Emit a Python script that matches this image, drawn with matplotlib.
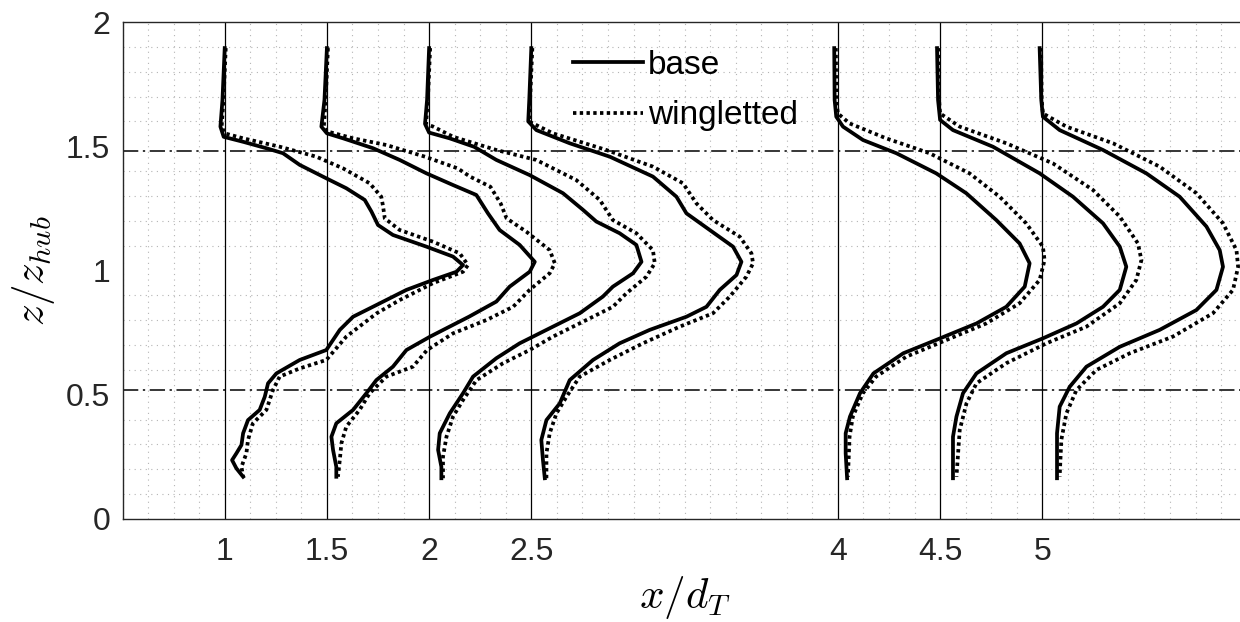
import numpy as np
import matplotlib
matplotlib.use('Agg')
import matplotlib.pyplot as plt
from matplotlib.ticker import MultipleLocator

# measurement stations x/d_T
stations = [1, 1.5, 2, 2.5, 4, 4.5, 5]
xtick_labels = ['1', '1.5', '2', '2.5', '4', '4.5', '5']
z_tip_top = 1.48
z_tip_bottom = 0.52

# profiles: z/z_hub and horizontal offset from station
base_z_10 = [1.895, 1.686, 1.579, 1.538, 1.518, 1.492, 1.472, 1.425, 1.371, 1.331, 1.284, 1.237,
             1.183, 1.143, 1.096, 1.056, 1.022, 0.995, 0.962, 0.922, 0.861, 0.814, 0.761, 0.680,
             0.640, 0.586, 0.546, 0.492, 0.439, 0.398, 0.345, 0.298, 0.264, 0.237, 0.204, 0.170]
base_dx_10 = [0.0, -0.011, -0.021, -0.005, 0.090, 0.204, 0.285, 0.367, 0.497, 0.595, 0.685, 0.718,
              0.750, 0.823, 0.987, 1.117, 1.166, 1.134, 1.019, 0.889, 0.742, 0.628, 0.563, 0.497,
              0.367, 0.253, 0.212, 0.196, 0.171, 0.114, 0.090, 0.082, 0.057, 0.036, 0.057, 0.090]
wing_z_10 = [1.895, 1.686, 1.579, 1.552, 1.532, 1.515, 1.498, 1.478, 1.458, 1.411, 1.351, 1.297,
             1.257, 1.210, 1.163, 1.116, 1.069, 1.022, 0.995, 0.949, 0.881, 0.827, 0.734, 0.640,
             0.606, 0.573, 0.519, 0.439, 0.385, 0.318, 0.264, 0.210, 0.170]
wing_dx_10 = [0.005, -0.006, -0.015, 0.0, 0.090, 0.180, 0.270, 0.360, 0.448, 0.579, 0.709, 0.766,
              0.775, 0.783, 0.856, 1.019, 1.150, 1.190, 1.166, 1.019, 0.856, 0.742, 0.595, 0.497,
              0.367, 0.269, 0.236, 0.204, 0.138, 0.114, 0.106, 0.082, 0.090]

base_z_15 = [1.895, 1.686, 1.579, 1.552, 1.532, 1.492, 1.445, 1.391, 1.344, 1.304, 1.230, 1.163,
             1.103, 1.035, 0.995, 0.935, 0.875, 0.814, 0.734, 0.680, 0.613, 0.559, 0.506, 0.439,
             0.385, 0.331, 0.278, 0.210, 0.170]
base_dx_15 = [0.0, -0.012, -0.027, 0.0, 0.079, 0.226, 0.356, 0.487, 0.617, 0.731, 0.788, 0.845,
              0.943, 1.017, 0.992, 0.894, 0.829, 0.695, 0.505, 0.389, 0.323, 0.242, 0.193, 0.128,
              0.046, 0.022, 0.030, 0.046, 0.046]
wing_z_15 = [1.895, 1.686, 1.579, 1.560, 1.532, 1.505, 1.458, 1.411, 1.378, 1.337, 1.270, 1.210,
             1.156, 1.082, 1.029, 0.989, 0.922, 0.854, 0.801, 0.747, 0.680, 0.613, 0.573, 0.506,
             0.439, 0.372, 0.305, 0.237, 0.170]
wing_dx_15 = [0.005, -0.006, -0.015, 0.0, 0.128, 0.291, 0.480, 0.640, 0.700, 0.800, 0.850, 0.879,
              0.976, 1.090, 1.115, 1.090, 0.992, 0.911, 0.781, 0.617, 0.490, 0.421, 0.291, 0.209,
              0.160, 0.095, 0.071, 0.063, 0.054]

base_z_20 = [1.895, 1.686, 1.590, 1.555, 1.532, 1.498, 1.445, 1.384, 1.311, 1.244, 1.197, 1.150,
             1.103, 1.035, 0.989, 0.935, 0.895, 0.828, 0.761, 0.707, 0.647, 0.573, 0.506, 0.425,
             0.345, 0.278, 0.210, 0.164]
base_dx_20 = [0.0, -0.010, -0.020, 0.0, 0.100, 0.220, 0.329, 0.492, 0.655, 0.753, 0.818, 0.932,
              1.014, 1.039, 0.998, 0.899, 0.850, 0.737, 0.574, 0.443, 0.329, 0.215, 0.166, 0.101,
              0.052, 0.044, 0.060, 0.060]
wing_z_20 = [1.895, 1.686, 1.590, 1.579, 1.538, 1.485, 1.445, 1.364, 1.284, 1.203, 1.150, 1.082,
             1.029, 0.975, 0.908, 0.854, 0.801, 0.734, 0.680, 0.627, 0.559, 0.479, 0.412, 0.331,
             0.251, 0.164]
wing_dx_20 = [0.005, -0.006, -0.015, 0.020, 0.118, 0.329, 0.524, 0.720, 0.835, 0.899, 1.014, 1.095,
              1.104, 1.063, 0.965, 0.899, 0.770, 0.606, 0.492, 0.362, 0.232, 0.166, 0.117, 0.085,
              0.068, 0.068]

base_z_25 = [1.895, 1.686, 1.600, 1.565, 1.512, 1.458, 1.378, 1.297, 1.230, 1.163, 1.096, 1.035,
             0.982, 0.922, 0.854, 0.814, 0.761, 0.707, 0.640, 0.559, 0.465, 0.398, 0.318, 0.237,
             0.164]
base_dx_25 = [0.0, -0.010, -0.015, 0.025, 0.188, 0.384, 0.595, 0.710, 0.759, 0.873, 0.987, 1.028,
              1.004, 0.922, 0.857, 0.759, 0.579, 0.432, 0.302, 0.188, 0.139, 0.074, 0.049, 0.057,
              0.066]
wing_z_25 = [1.895, 1.686, 1.600, 1.585, 1.552, 1.485, 1.418, 1.351, 1.270, 1.203, 1.136, 1.069,
             1.029, 0.975, 0.895, 0.828, 0.774, 0.707, 0.640, 0.573, 0.492, 0.425, 0.345, 0.264,
             0.164]
wing_dx_25 = [0.005, -0.006, -0.012, 0.025, 0.106, 0.367, 0.595, 0.742, 0.808, 0.889, 1.020, 1.077,
              1.085, 1.052, 0.971, 0.889, 0.726, 0.546, 0.384, 0.237, 0.172, 0.123, 0.090, 0.074,
              0.074]

base_z_40 = [1.895, 1.686, 1.619, 1.579, 1.525, 1.472, 1.391, 1.311, 1.203, 1.109, 1.029, 0.935,
             0.854, 0.787, 0.727, 0.667, 0.586, 0.506, 0.412, 0.345, 0.264, 0.164]
base_dx_40 = [-0.018, -0.016, -0.008, 0.025, 0.123, 0.286, 0.481, 0.628, 0.775, 0.889, 0.938, 0.914,
              0.824, 0.678, 0.500, 0.320, 0.174, 0.108, 0.059, 0.038, 0.038, 0.045]
wing_z_40 = [1.895, 1.686, 1.632, 1.592, 1.532, 1.472, 1.391, 1.297, 1.190, 1.096, 1.042, 0.962,
             0.868, 0.787, 0.720, 0.653, 0.573, 0.506, 0.412, 0.331, 0.170]
wing_dx_40 = [-0.010, -0.008, 0.0, 0.057, 0.236, 0.448, 0.644, 0.791, 0.921, 1.003, 1.011, 0.987,
              0.889, 0.726, 0.530, 0.334, 0.187, 0.122, 0.073, 0.057, 0.049]

base_z_45 = [1.895, 1.686, 1.606, 1.565, 1.498, 1.391, 1.297, 1.190, 1.096, 1.015, 0.922, 0.854,
             0.787, 0.727, 0.667, 0.586, 0.506, 0.412, 0.331, 0.164]
base_dx_45 = [-0.015, -0.010, 0.0, 0.063, 0.259, 0.487, 0.650, 0.797, 0.879, 0.911, 0.879, 0.797,
              0.667, 0.503, 0.324, 0.178, 0.112, 0.080, 0.063, 0.063]
wing_z_45 = [1.895, 1.686, 1.632, 1.579, 1.512, 1.431, 1.324, 1.217, 1.109, 1.042, 0.962, 0.868,
             0.774, 0.707, 0.627, 0.546, 0.465, 0.358, 0.170]
wing_dx_45 = [-0.008, -0.005, 0.0, 0.096, 0.324, 0.552, 0.748, 0.879, 0.968, 0.985, 0.960, 0.879,
              0.716, 0.520, 0.324, 0.178, 0.129, 0.096, 0.080]

base_z_50 = [1.895, 1.686, 1.619, 1.565, 1.485, 1.391, 1.297, 1.177, 1.082, 1.015, 0.922, 0.841,
             0.761, 0.693, 0.613, 0.532, 0.452, 0.345, 0.164]
base_dx_50 = [-0.013, -0.005, 0.003, 0.085, 0.297, 0.509, 0.672, 0.803, 0.868, 0.884, 0.852, 0.754,
              0.574, 0.379, 0.216, 0.134, 0.085, 0.072, 0.072]
wing_z_50 = [1.895, 1.686, 1.632, 1.579, 1.512, 1.418, 1.311, 1.190, 1.082, 1.015, 0.922, 0.828,
             0.734, 0.667, 0.600, 0.519, 0.425, 0.318, 0.170]
wing_dx_50 = [-0.006, -0.003, 0.003, 0.118, 0.346, 0.574, 0.754, 0.884, 0.950, 0.958, 0.933, 0.835,
              0.639, 0.428, 0.265, 0.167, 0.118, 0.093, 0.085]

base_z = [base_z_10, base_z_15, base_z_20, base_z_25, base_z_40, base_z_45, base_z_50]
base_dx = [base_dx_10, base_dx_15, base_dx_20, base_dx_25, base_dx_40, base_dx_45, base_dx_50]
wing_z = [wing_z_10, wing_z_15, wing_z_20, wing_z_25, wing_z_40, wing_z_45, wing_z_50]
wing_dx = [wing_dx_10, wing_dx_15, wing_dx_20, wing_dx_25, wing_dx_40, wing_dx_45, wing_dx_50]


def main():
    plt.rcParams['font.family'] = ['Liberation Sans', 'DejaVu Sans']
    plt.rcParams['mathtext.fontset'] = 'cm'

    fig = plt.figure(figsize=(12.4, 6.22), dpi=100)
    # axes run a little past the right edge of the figure, like the original
    ax = fig.add_axes([0.0988, 0.1656, 0.9066, 0.799])

    for x0 in stations:
        ax.axvline(x0, color='k', lw=0.9, zorder=2)

    for y0 in [z_tip_top, z_tip_bottom]:
        ax.axhline(y0, color='k', lw=1.1, linestyle=(0, (10, 3, 1.5, 3)), zorder=2)

    for i, x0 in enumerate(stations):
        lb = ax.plot(x0 + np.array(base_dx[i]), base_z[i], color='k', lw=2.7,
                     solid_joinstyle='round', zorder=4)
        lw_ = ax.plot(x0 + np.array(wing_dx[i]), wing_z[i], color='k', lw=2.7,
                      linestyle=(0, (0.9, 0.9)), zorder=3)

    ax.set_xlim(0.5, 6.0)
    ax.set_ylim(0, 2)
    ax.set_xticks(stations)
    ax.set_xticklabels(xtick_labels)
    ax.set_yticks([0, 0.5, 1, 1.5, 2])
    ax.set_yticklabels(['0', '0.5', '1', '1.5', '2'])
    ax.xaxis.set_minor_locator(MultipleLocator(0.125))
    ax.yaxis.set_minor_locator(MultipleLocator(0.1))
    ax.grid(which='minor', color='#b4b4b4', lw=0.8, linestyle=(0, (1, 4)))
    ax.set_axisbelow(True)
    ax.tick_params(which='major', direction='in', length=0, labelsize=23,
                   colors='#262626')
    ax.tick_params(axis='x', pad=13)
    ax.tick_params(axis='y', pad=9)
    ax.tick_params(which='minor', length=0)
    for s in ax.spines.values():
        s.set_color('#262626')
        s.set_linewidth(1.0)

    ax.set_xlabel(r'$x/d_T$', fontsize=31, labelpad=5)
    ax.set_ylabel(r'$z/z_{hub}$', fontsize=31, labelpad=6)

    ax.legend([lb[0], lw_[0]], ['base', 'wingletted'], loc='upper left',
              bbox_to_anchor=(0.4007, 0.944), frameon=False, fontsize=24,
              handlelength=2.1, handletextpad=0.15, labelspacing=0.58,
              borderpad=0, borderaxespad=0)

    fig.savefig('out.png', dpi=100)


if __name__ == "__main__":
    main()
